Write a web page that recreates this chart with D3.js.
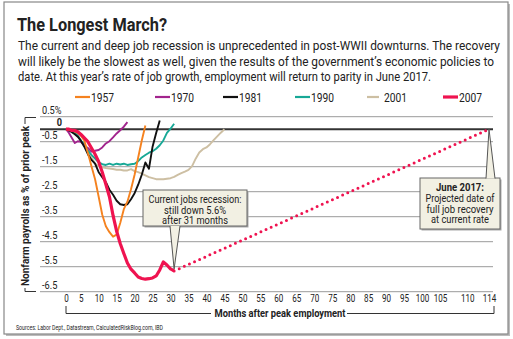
<!DOCTYPE html>
<html>
<head>
<meta charset="utf-8">
<script src="https://cdn.jsdelivr.net/npm/d3@7"></script>
<style>
body{margin:0;background:#fff}
svg text{font-family:Roboto,"Liberation Sans",sans-serif;fill:#222}
</style>
</head>
<body>
<div id="chart"></div>
<script>
var width = 513, height = 339

// data (months after peak -> % of prior peak)
var years = ['1957', '1970', '1981', '1990', '2001', '2007']
var v1957 = [0, -0.02, -0.05, -0.1, -0.15, -0.25, -0.45, -0.95, -1.48, -2.0, -2.7, -3.42, -3.88, -4.12, -4.3, -4.22, -3.75, -3.2, -2.9, -2.4, -1.82, -1.13, -0.45, 0.15]
var v1970 = [0, -0.15, -0.35, -0.55, -0.48, -0.5, -0.65, -0.75, -0.9, -0.86, -0.83, -0.73, -0.57, -0.48, -0.33, -0.17, -0.04, 0.1, 0.28]
var v1981 = [0, -0.05, -0.12, -0.2, -0.3, -0.45, -0.7, -1.0, -1.23, -1.38, -1.72, -1.92, -2.12, -2.42, -2.62, -2.86, -3.0, -3.03, -3.0, -2.8, -2.56, -2.22, -1.82, -1.33, -1.58, -0.7, -0.15, 0.35]
var v1990 = [0, -0.02, -0.08, -0.15, -0.25, -0.45, -0.6, -0.85, -1.03, -1.18, -1.33, -1.4, -1.43, -1.38, -1.43, -1.38, -1.41, -1.38, -1.43, -1.4, -1.38, -1.28, -1.13, -1.03, -0.94, -0.88, -0.78, -0.64, -0.45, -0.15, 0.02, 0.22]
var v2001 = [0, -0.02, -0.08, -0.15, -0.25, -0.45, -0.65, -0.9, -1.13, -1.38, -1.48, -1.52, -1.55, -1.57, -1.59, -1.62, -1.62, -1.65, -1.65, -1.6, -1.68, -1.72, -1.78, -1.85, -1.92, -1.96, -2.0, -2.0, -2.0, -1.98, -1.96, -1.91, -1.83, -1.76, -1.7, -1.63, -1.48, -1.18, -0.93, -0.8, -0.73, -0.6, -0.44, -0.29, -0.14, 0]
var v2007 = [0, 0, -0.05, -0.05, -0.1, -0.2, -0.35, -0.5, -0.75, -1.0, -1.3, -1.72, -2.2, -2.7, -3.45, -4.08, -4.57, -4.97, -5.35, -5.6, -5.75, -5.91, -5.97, -6.0, -5.98, -5.95, -5.87, -5.63, -5.31, -5.43, -5.59, -5.67]
var projection = [[31, -5.67], [114, 0]]

var xTicks = [0, 5, 10, 15, 20, 25, 30, 35, 40, 45, 50, 55, 60, 65, 70, 75, 80, 85, 90, 95, 100, 105, 110, 114]
var yTicks = [0.5, 0, -0.5, -1.5, -2.5, -3.5, -4.5, -5.5, -6.5]
var yTickLabels = ['0.5%', '0', '-0.5', '-1.5', '-2.5', '-3.5', '-4.5', '-5.5', '-6.5']

var series = [v1957, v1970, v1981, v1990, v2001, v2007]
var colors = ['#f5821f', '#a2248d', '#111111', '#17a896', '#cdbfa3', '#ef1350']

// squeeze text horizontally to mimic the condensed face of the original
function squeeze(sel, f){
  sel.each(function(){
    var len = this.getComputedTextLength()
    d3.select(this).attr('textLength', len * f).attr('lengthAdjust', 'spacingAndGlyphs')
  })
}

var svg = d3.select('#chart').append('svg')
    .attr('width', width).attr('height', height)

// frame
svg.append('rect').attr('x', 6).attr('y', 4).attr('width', 504).attr('height', 332)
    .attr('fill', '#bbb')
svg.append('rect').attr('x', 4).attr('y', 2).attr('width', 504).attr('height', 332)
    .attr('fill', '#fff').attr('stroke', '#888').attr('stroke-width', 1.2)

// title + subtitle
svg.append('text').attr('x', 17).attr('y', 31)
    .attr('font-size', 18).attr('font-weight', 'bold')
    .attr('textLength', 150).attr('lengthAdjust', 'spacingAndGlyphs')
    .text('The Longest March?')

var sub = [
  ['The current and deep job recession is unprecedented in post-WWII downturns. The recovery', 482],
  ['will likely be the slowest as well, given the results of the government\u2019s economic policies to', 476],
  ['date. At this year\u2019s rate of job growth, employment will return to parity in June 2017.', 413]
]
sub.forEach(function(d, i){
  svg.append('text').attr('x', 18).attr('y', 50 + i * 15.7)
      .attr('font-size', 12.2)
      .attr('textLength', d[1]).attr('lengthAdjust', 'spacingAndGlyphs')
      .text(d[0])
})

// scales (x labels in the original are not evenly spaced, so piecewise)
var x = d3.scaleLinear().domain([0, 5, 105, 114]).range([66, 80.7, 440, 489])
var y = d3.scaleLinear().domain([0.5, -6.5]).range([116.7, 291.7])

// grid
var grid = svg.append('g')
grid.selectAll('line').data(yTicks).join('line')
    .attr('x1', 40).attr('x2', 493)
    .attr('y1', function(d){ return y(d) }).attr('y2', function(d){ return y(d) })
    .attr('stroke', function(d){ return d === 0 ? '#333' : '#9a9a9a' })
    .attr('stroke-width', function(d){ return d === 0 ? 2 : 1 })

grid.selectAll('text').data(yTicks).join('text')
    .attr('x', function(d){ return d === 0 ? 62 : 42 })
    .attr('y', function(d){ return y(d) - 3 })
    .attr('text-anchor', function(d){ return d === 0 ? 'end' : 'start' })
    .attr('font-weight', function(d){ return d === 0 ? 'bold' : 'normal' })
    .attr('font-size', 11.5)
    .attr('fill', '#333')
    .text(function(d, i){ return yTickLabels[i] })
    .call(squeeze, 0.8)

// x axis labels
var xAxis = d3.axisBottom(x).tickValues(xTicks).tickSize(0).tickPadding(0)
var gx = svg.append('g').attr('transform', 'translate(0,294)').call(xAxis)
gx.select('.domain').remove()
gx.selectAll('text').attr('font-size', 11.5).attr('fill', '#333')
    .attr('font-family', 'Roboto,sans-serif')
    .call(squeeze, 0.7)

// axis titles with brackets
svg.append('text').attr('x', 280).attr('y', 317)
    .attr('text-anchor', 'middle').attr('font-size', 11).attr('font-weight', 'bold')
    .attr('textLength', 131).attr('lengthAdjust', 'spacingAndGlyphs')
    .text('Months after peak employment')
svg.append('path').attr('d', 'M66,306V313.5H211 M347,313.5H494V306')
    .attr('fill', 'none').attr('stroke', '#333').attr('stroke-width', 1)

svg.append('text').attr('transform', 'translate(29,206) rotate(-90)')
    .attr('text-anchor', 'middle').attr('font-size', 11).attr('font-weight', 'bold')
    .attr('textLength', 160).attr('lengthAdjust', 'spacingAndGlyphs')
    .text('Nonfarm payrolls as % of prior peak')
svg.append('path').attr('d', 'M36,117.5H25V124 M25,288V291.5H36')
    .attr('fill', 'none').attr('stroke', '#333').attr('stroke-width', 1)

// lines
var line = d3.line()
    .x(function(d, i){ return x(i) })
    .y(function(d){ return y(d) })

var order = [4, 3, 1, 2, 0, 5]
svg.append('g').selectAll('path').data(order).join('path')
    .attr('d', function(k){ return line(series[k]) })
    .attr('fill', 'none')
    .attr('stroke', function(k){ return colors[k] })
    .attr('stroke-width', function(k){ return k === 5 ? 3.2 : 1.9 })
    .attr('stroke-linejoin', 'round')

// projection
svg.append('path')
    .attr('d', d3.line().x(function(d){ return x(d[0]) }).y(function(d){ return y(d[1]) })(projection))
    .attr('fill', 'none').attr('stroke', colors[5]).attr('stroke-width', 3)
    .attr('stroke-linecap', 'round').attr('stroke-dasharray', '0 5.6')

// legend
var legendX = [75, 155, 223, 295, 367, 443]
var leg = svg.append('g').selectAll('g').data(years).join('g')
    .attr('transform', function(d, i){ return 'translate(' + legendX[i] + ',97)' })
leg.append('line').attr('x1', 0).attr('x2', function(d, i){ return i === 4 ? 12 : 15 })
    .attr('stroke', function(d, i){ return colors[i] })
    .attr('stroke-width', function(d, i){ return i === 5 ? 3.2 : 2.2 })
leg.append('text').attr('x', function(d, i){ return i === 4 ? 17 : 16 }).attr('y', 4.5)
    .attr('font-size', 12).attr('fill', '#222')
    .attr('textLength', 23).attr('lengthAdjust', 'spacingAndGlyphs')
    .text(function(d){ return d })

// callouts
function callout(box, tip, base, lines){
  var g = svg.append('g')
  g.append('rect').attr('x', box[0] + 1.5).attr('y', box[1] + 1.5)
      .attr('width', box[2]).attr('height', box[3]).attr('fill', '#aaa')
  g.append('rect').attr('x', box[0]).attr('y', box[1])
      .attr('width', box[2]).attr('height', box[3])
      .attr('fill', '#f2f0e3').attr('stroke', '#666').attr('stroke-width', 1)
  g.append('path')
      .attr('d', 'M' + base[0] + ',' + base[2] + 'L' + tip[0] + ',' + tip[1] + 'L' + base[1] + ',' + base[2])
      .attr('fill', '#f2f0e3').attr('stroke', '#555').attr('stroke-width', 1)
  lines.forEach(function(l){
    g.append('text').attr('x', box[0] + box[2] / 2).attr('y', l[1])
        .attr('text-anchor', 'middle').attr('font-size', 10.5)
        .attr('font-weight', l[3] ? 'bold' : 'normal')
        .attr('textLength', l[2]).attr('lengthAdjust', 'spacingAndGlyphs')
        .text(l[0])
  })
}

callout([143, 190, 104, 36], [x(31), y(-5.67) - 2], [170, 180, 226],
  [['Current jobs recession:', 202.5, 93], ['still down 5.6%', 213.5, 62], ['after 31 months', 224, 66]])

callout([420, 178, 80, 51], [x(114), y(0)], [486, 495, 178.5],
  [['June 2017:', 190.5, 48, true], ['Projected date of', 201.5, 69], ['full job recovery', 212.5, 67], ['at current rate', 223, 58]])

// source
svg.append('text').attr('x', 16).attr('y', 330)
    .attr('font-size', 7.5).attr('fill', '#333')
    .attr('textLength', 147).attr('lengthAdjust', 'spacingAndGlyphs')
    .text('Sources: Labor Dept., Datastream, CalculatedRiskBlog.com, IBD')
</script>
</body>
</html>
